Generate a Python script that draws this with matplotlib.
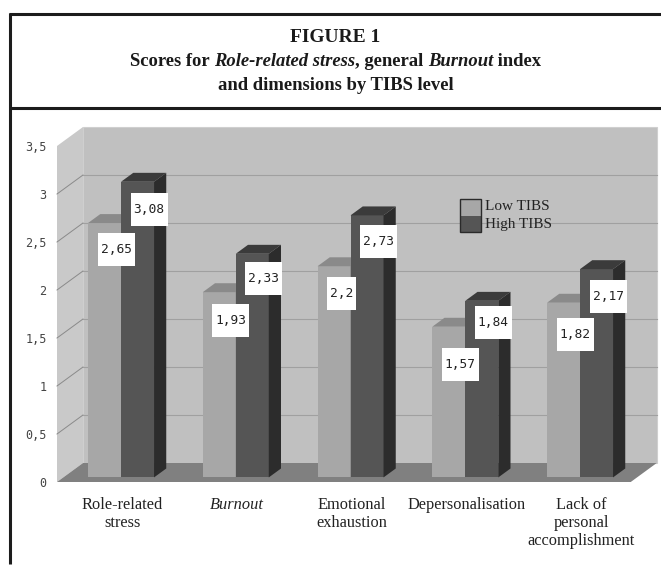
import numpy as np
import matplotlib
matplotlib.use("Agg")
import matplotlib.pyplot as plt
from matplotlib.patches import Polygon, Rectangle
from matplotlib.lines import Line2D

# data
categories = ["Role-related\nstress", "Burnout", "Emotional\nexhaustion",
              "Depersonalisation", "Lack of\npersonal\naccomplishment"]
low_tibs = [2.65, 1.93, 2.2, 1.57, 1.82]
high_tibs = [3.08, 2.33, 2.73, 1.84, 2.17]
y_ticks = [0, 0.5, 1, 1.5, 2, 2.5, 3, 3.5]
series_names = ["Low TIBS", "High TIBS"]

# layout (pixels of a 661x565 picture)
W, H = 661, 565
ax_left, ax_right, ax_bottom = 57, 630.75, 482
px_per_unit_y = 96.0
ymax = 3.5
n = len(categories)
ux = (ax_right - ax_left) / n          # px per x unit
uy = px_per_unit_y                      # px per y unit
DX, DY = 26 / ux, 19 / uy               # wall depth in data units
bar_front, bar_back = 0.24, 0.71        # bar depth as fraction of wall depth
bar_w = 33 / ux
bar_start = 0.216
label_gap_px = [[10, 11], [12, 8], [11, 10], [21, 5], [15, 11]]

c_back = "#c0c0c0"
c_side_wall = "#c9c9c9"
c_floor = "#808080"
c_grid = "#a0a0a0"
c_low = ("#a7a7a7", "#8a8a8a", "#7a7a7a")    # front, top, side
c_high = ("#555555", "#3b3b3b", "#2c2c2c")


def fx(px):
    return px / W


def fy(py):
    return 1 - py / H


fig = plt.figure(figsize=(W / 100, H / 100), dpi=100)
fig.patch.set_facecolor("white")

# frame of the figure box
frame = dict(color="#1c1c1c", lw=2.2, solid_capstyle="butt")
fig.add_artist(Line2D([fx(9), fx(W)], [fy(13.5), fy(13.5)], **frame))
fig.add_artist(Line2D([fx(9), fx(W)], [fy(108), fy(108)], **frame))
fig.add_artist(Line2D([fx(9.5), fx(9.5)], [fy(12.5), fy(564)], **frame))


def rich_line(segments, y_px, size):
    """draw text pieces of mixed style on one centred line"""
    renderer = fig.canvas.get_renderer()
    texts = []
    for s, style in segments:
        t = fig.text(0, fy(y_px), s, fontsize=size, family="Liberation Serif",
                     weight="bold", style=style, va="center", ha="left",
                     color="#1a1a1a")
        texts.append(t)
    widths = [t.get_window_extent(renderer).width for t in texts]
    x = (W / 2 + 5) - sum(widths) / 2
    for t, w in zip(texts, widths):
        t.set_x(fx(x))
        x += w


rich_line([("FIGURE 1", "normal")], 37, 14)
rich_line([("Scores for ", "normal"), ("Role-related stress", "italic"),
           (", general ", "normal"), ("Burnout", "italic"),
           (" index", "normal")], 62, 13.4)
rich_line([("and dimensions by TIBS level", "normal")], 86, 13.4)

ax = fig.add_axes([fx(ax_left), fy(ax_bottom), (ax_right - ax_left) / W,
                   (ymax * uy) / H])
ax.set_xlim(0, n)
ax.set_ylim(0, ymax)
for sp in ax.spines.values():
    sp.set_visible(False)
ax.patch.set_visible(False)

# walls and floor
ax.add_patch(Rectangle((DX, DY), n, ymax, facecolor=c_back, edgecolor="#cfcfcf",
                       lw=0.8, zorder=1, clip_on=False))
ax.add_patch(Polygon([(0, 0), (DX, DY), (DX, ymax + DY), (0, ymax)],
                     closed=True, facecolor=c_side_wall, edgecolor="none",
                     zorder=1, clip_on=False))
ax.add_patch(Polygon([(0, 0), (n, 0), (n + DX, DY), (DX, DY)], closed=True,
                     facecolor=c_floor, edgecolor="none", zorder=2, clip_on=False))
for v in y_ticks[1:-1]:
    ax.plot([0, DX], [v, v + DY], color="#8a8a8a", lw=0.7,
            zorder=1.5, clip_on=False)
    ax.plot([DX, n + DX], [v + DY, v + DY], color=c_grid, lw=0.8,
            zorder=1.5, clip_on=False)


def draw_bar(xl, v, colors, z):
    f0x, f0y = bar_front * DX, bar_front * DY
    b0x, b0y = bar_back * DX, bar_back * DY
    front, top, side = colors
    ax.add_patch(Rectangle((xl + f0x, f0y), bar_w, v, facecolor=front,
                           edgecolor="none", zorder=z, clip_on=False))
    ax.add_patch(Polygon([(xl + f0x, v + f0y), (xl + bar_w + f0x, v + f0y),
                          (xl + bar_w + b0x, v + b0y), (xl + b0x, v + b0y)],
                         closed=True, facecolor=top, edgecolor="none",
                         zorder=z, clip_on=False))
    ax.add_patch(Polygon([(xl + bar_w + f0x, f0y), (xl + bar_w + b0x, b0y),
                          (xl + bar_w + b0x, v + b0y), (xl + bar_w + f0x, v + f0y)],
                         closed=True, facecolor=side, edgecolor="none",
                         zorder=z, clip_on=False))


def value_label(xl, v, gap):
    s = f"{v:g}".replace(".", ",")
    bw = (len(s) * 8 + 5) / ux
    bh = 33 / uy
    cx = xl + bar_front * DX + bar_w / 2
    left = cx - 7 / ux
    top = v + bar_front * DY - gap / uy
    ax.add_patch(Rectangle((left, top - bh), bw, bh, facecolor="white",
                           edgecolor="none", zorder=10, clip_on=False))
    ax.text(left + bw / 2, top - bh / 2, s, ha="center", va="center",
            family="DejaVu Sans Mono", fontsize=9.3, color="#222222",
            zorder=11, clip_on=False)


for i in range(n):
    xl = i + bar_start
    draw_bar(xl, low_tibs[i], c_low, 3 + i)
    draw_bar(xl + bar_w, high_tibs[i], c_high, 3.5 + i)
for i in range(n):
    xl = i + bar_start
    value_label(xl, low_tibs[i], label_gap_px[i][0])
    value_label(xl + bar_w, high_tibs[i], label_gap_px[i][1])

# axes ticks
ax.set_yticks(y_ticks)
ax.set_yticklabels([f"{t:g}".replace(".", ",") for t in y_ticks],
                   family="DejaVu Sans Mono", fontsize=8.5, color="#444444")
ax.tick_params(axis="y", length=0, pad=7.5)
ax.set_xticks([i + 0.57 for i in range(n)])
ax.set_xticklabels(categories, family="Liberation Serif", fontsize=11.8,
                   color="#222222", linespacing=1.2)
ax.tick_params(axis="x", length=0, pad=10.5)
ax.get_xticklabels()[1].set_style("italic")

# legend: one bordered swatch split in two
lx, ly = (460 - ax_left) / ux, (ax_bottom - 232) / uy
sw, sh = 21 / ux, 33 / uy
ax.add_patch(Rectangle((lx, ly + sh / 2), sw, sh / 2, facecolor=c_low[0],
                       edgecolor="none", zorder=12, clip_on=False))
ax.add_patch(Rectangle((lx, ly), sw, sh / 2, facecolor=c_high[0],
                       edgecolor="none", zorder=12, clip_on=False))
ax.add_patch(Rectangle((lx, ly), sw, sh, facecolor="none", edgecolor="#2a2a2a",
                       lw=1.0, zorder=13, clip_on=False))
for k, name in enumerate(series_names):
    ax.text(lx + sw + 4 / ux, ly + sh * (0.77 - 0.55 * k), name,
            family="Liberation Serif", fontsize=11, color="#222222",
            va="center", ha="left", zorder=12)

fig.savefig("out.png", dpi=100, facecolor="white")
